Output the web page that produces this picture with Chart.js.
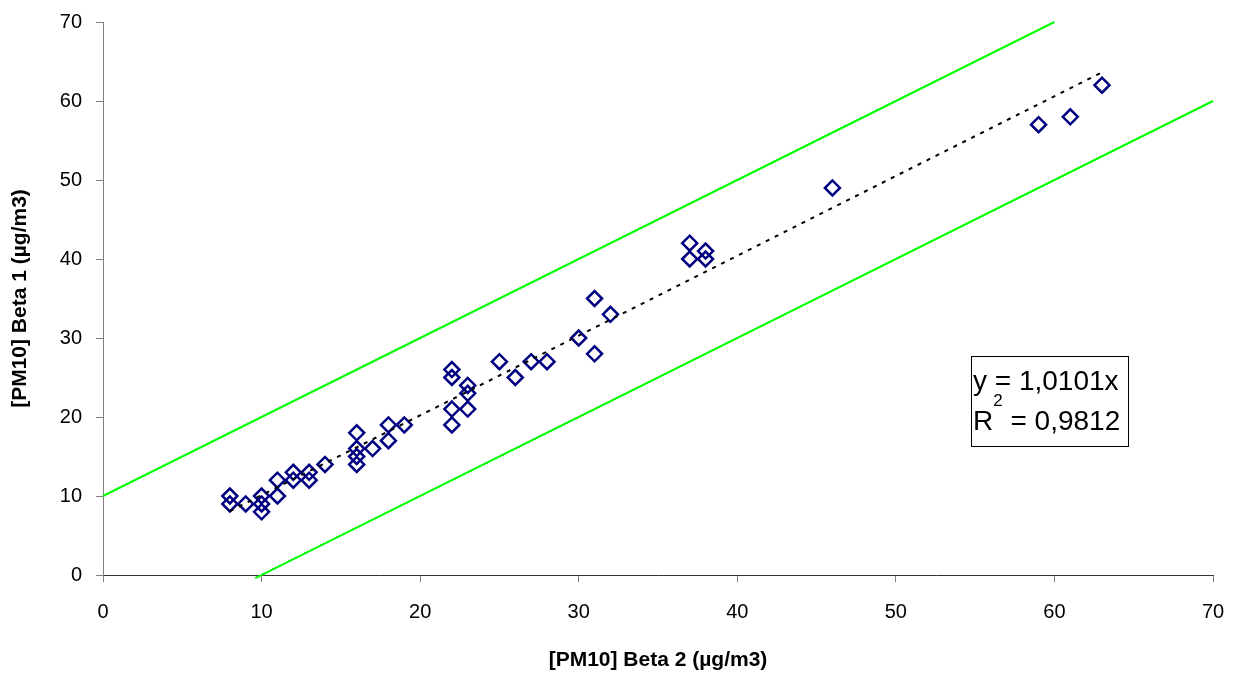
<!DOCTYPE html>
<html>
<head>
<meta charset="utf-8">
<script src="https://cdn.jsdelivr.net/npm/chart.js@4"></script>
<style>
  html, body { margin: 0; padding: 0; background: #fff; }
  #wrap { width: 1237px; height: 675px; }
</style>
</head>
<body>
<div id="wrap"><canvas id="myChart" width="1237" height="675"></canvas></div>
<script>
// measured values [PM10] Beta 2 vs Beta 1
var xValues = [8, 8, 9, 10, 10, 10, 11, 11, 12, 12, 13, 13, 14, 16, 16, 16, 16, 17, 18, 18, 19,
  22, 22, 22, 22, 23, 23, 23, 25, 26, 27, 28, 30, 31, 31, 32, 37, 37, 38, 38, 46, 59, 61, 63];
var yValues = [10, 9, 9, 10, 9, 8, 12, 10, 13, 12, 13, 12, 14, 18, 16, 15, 14, 16, 19, 17, 19,
  26, 25, 21, 19, 24, 23, 21, 27, 25, 27, 27, 30, 35, 28, 33, 42, 40, 41, 40, 49, 57, 58, 62];

// trend line y = 1,0101x (from min x to max x)
var trendX = [8, 63];
var trendY = [8.08, 63.64];

// +/- 10 limit lines
var upperX = [0, 60];
var upperY = [10, 70];
var lowerX = [9.6, 70];
var lowerY = [-0.4, 60];

var xTicks = [0, 10, 20, 30, 40, 50, 60, 70];
var yTicks = [0, 10, 20, 30, 40, 50, 60, 70];

function toPoints(xs, ys) {
  var pts = [];
  for (var i = 0; i < xs.length; i++) pts.push({ x: xs[i], y: ys[i] });
  return pts;
}

// box with the regression text
var eqBox = {
  id: 'eqBox',
  afterDraw: function(chart) {
    var ctx = chart.ctx;
    ctx.save();
    ctx.fillStyle = '#fff';
    ctx.fillRect(971, 356, 157, 90);
    ctx.strokeStyle = '#000';
    ctx.lineWidth = 1;
    ctx.strokeRect(971.5, 356.5, 157, 90);
    ctx.fillStyle = '#000';
    ctx.textBaseline = 'alphabetic';
    ctx.font = '28px "Liberation Sans", Arial, sans-serif';
    ctx.fillText('y = 1,0101x', 973, 390);
    ctx.fillText('R', 973, 430);
    var rw = ctx.measureText('R').width;
    ctx.font = '17px "Liberation Sans", Arial, sans-serif';
    ctx.fillText('2', 973 + rw, 406);
    var sw = ctx.measureText('2').width;
    ctx.font = '28px "Liberation Sans", Arial, sans-serif';
    ctx.fillText(' = 0,9812', 973 + rw + sw, 430);
    ctx.restore();
  }
};

new Chart("myChart", {
  type: "scatter",
  data: {
    datasets: [{
      data: toPoints(upperX, upperY),
      showLine: true,
      borderColor: '#00ff00',
      borderWidth: 2,
      pointRadius: 0,
      clip: false
    }, {
      data: toPoints(lowerX, lowerY),
      showLine: true,
      borderColor: '#00ff00',
      borderWidth: 2,
      pointRadius: 0,
      clip: false
    }, {
      data: toPoints(trendX, trendY),
      showLine: true,
      borderColor: '#000',
      borderWidth: 2,
      borderDash: [4, 6],
      pointRadius: 0
    }, {
      data: toPoints(xValues, yValues),
      pointStyle: 'rectRot',
      pointRadius: 7.5,
      pointBorderWidth: 2.5,
      borderColor: '#000080',
      backgroundColor: 'rgba(255,255,255,0)'
    }]
  },
  options: {
    responsive: false,
    animation: false,
    layout: { padding: { top: 22, right: 24, left: 0, bottom: 0 } },
    plugins: {
      legend: { display: false },
      tooltip: { enabled: false }
    },
    scales: {
      x: {
        type: 'linear',
        min: 0, max: 70,
        afterBuildTicks: function(axis) { axis.ticks = xTicks.map(function(v) { return { value: v }; }); },
        afterFit: function(axis) {
          axis.height = 100;
          axis.paddingLeft = 0;
          axis.paddingRight = 0;
        },
        grid: { drawOnChartArea: false, tickLength: 7, color: '#808080' },
        border: { color: '#333', width: 1 },
        ticks: { color: '#000', padding: 18, font: { family: '"Liberation Sans", Arial', size: 20 } },
        title: {
          display: true,
          text: '[PM10] Beta 2 (µg/m3)',
          color: '#000',
          padding: { top: 4, bottom: 2 },
          font: { family: '"Liberation Sans", Arial', size: 21, weight: 'bold' }
        }
      },
      y: {
        type: 'linear',
        min: 0, max: 70,
        afterBuildTicks: function(axis) { axis.ticks = yTicks.map(function(v) { return { value: v }; }); },
        afterFit: function(axis) {
          axis.width = 103;
          axis.paddingTop = 0;
          axis.paddingBottom = 0;
        },
        grid: { drawOnChartArea: false, tickLength: 7, color: '#808080' },
        border: { color: '#808080', width: 1 },
        ticks: { color: '#000', padding: 14, font: { family: '"Liberation Sans", Arial', size: 20 } },
        title: {
          display: true,
          text: '[PM10] Beta 1 (µg/m3)',
          color: '#000',
          padding: { top: 8, bottom: 4 },
          font: { family: '"Liberation Sans", Arial', size: 21, weight: 'bold' }
        }
      }
    }
  },
  plugins: [eqBox]
});
</script>
</body>
</html>
